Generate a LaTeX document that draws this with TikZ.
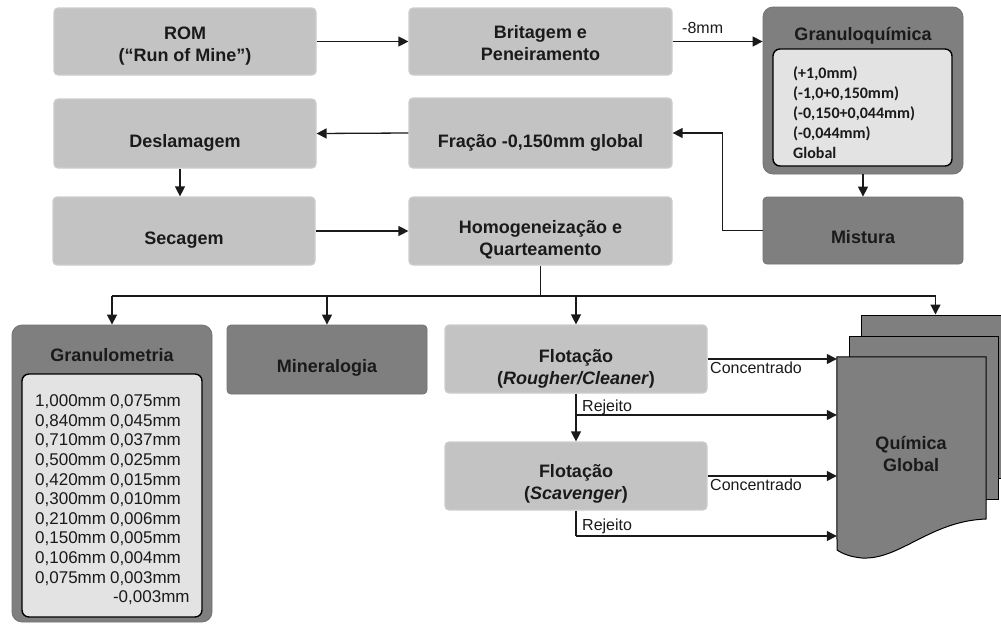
\documentclass[tikz,border=0pt]{standalone}
\usepackage{fontspec}
\setmainfont{Liberation Sans}
\newfontfamily\calibfont{Carlito}
\usetikzlibrary{arrows.meta,calc}
\definecolor{lightbox}{HTML}{C3C3C3}
\definecolor{lightedge}{HTML}{CDCDCD}
\definecolor{darkbox}{HTML}{7F7F7F}
\definecolor{panel}{HTML}{E3E3E3}
\definecolor{ink}{HTML}{1A1A1A}
\begin{document}
\begin{tikzpicture}[x=1pt,y=-1pt,
  lbox/.style={rectangle, rounded corners=4pt, fill=lightbox, draw=lightedge, line width=1.2pt, inner sep=0pt},
  dbox/.style={rectangle, rounded corners=4pt, fill=darkbox, draw=darkbox!90!black, line width=0.8pt, inner sep=0pt},
  frame/.style={rectangle, rounded corners=10pt, fill=darkbox, draw=darkbox!90!black, line width=0.8pt, inner sep=0pt},
  panelbox/.style={rectangle, rounded corners=7pt, fill=panel, draw=black, line width=1.4pt, inner sep=0pt},
  ttl/.style={font=\fontsize{18}{22}\selectfont\bfseries, text=ink, align=center, anchor=base, inner sep=0pt},
  lbl/.style={font=\fontsize{16}{19}\selectfont, text=ink, inner sep=0pt, anchor=base west},
  flow/.style={draw=ink, line width=1.3pt, -{Triangle[length=10pt,width=10pt]}},
  wire/.style={draw=ink, line width=1.3pt},
  page/.style={fill=darkbox, draw=black, line width=1pt}
]
\useasboundingbox (0,0) rectangle (1001,624);

% --- first row (two-line titles are placed by the baseline of their last line)
\node[lbox, minimum width=262pt, minimum height=67pt] (rom) at (185,41.5) {};
\node[ttl] (rom-t) at (185,61) {ROM\\(“Run of Mine”)};
\node[lbox, minimum width=263pt, minimum height=67pt] (brit) at (540.5,41.5) {};
\node[ttl] (brit-t) at (540.5,60) {Britagem e\\Peneiramento};

\node[frame, minimum width=200pt, minimum height=167pt] (granq) at (863,90.5) {};
\node[ttl] (granq-t) at (863,40) {Granuloquímica};
\node[panelbox, minimum width=179pt, minimum height=117pt] (granq-p) at (862.5,107.5) {};
\node[inner sep=0pt, anchor=north west, text=ink,
      font=\calibfont\fontsize{16}{20}\selectfont\bfseries] (granq-l) at (793,64)
  {\begin{tabular}{@{}l@{}}(+1,0mm)\\(-1,0+0,150mm)\\(-0,150+0,044mm)\\(-0,044mm)\\Global\end{tabular}};

% --- second row ------------------------------------------------------
\node[lbox, minimum width=262pt, minimum height=69pt] (desl) at (185,133.5) {};
\node[ttl] (desl-t) at (185,147) {Deslamagem};
\node[lbox, minimum width=263pt, minimum height=70pt] (frac) at (540.5,133) {};
\node[ttl] (frac-t) at (540.5,147) {Fração -0,150mm global};

% --- third row -------------------------------------------------------
\node[lbox, minimum width=262pt, minimum height=68pt] (sec) at (184,231) {};
\node[ttl] (sec-t) at (184,244) {Secagem};
\node[lbox, minimum width=263pt, minimum height=68pt] (homog) at (540.5,231) {};
\node[ttl] (homog-t) at (540.5,255) {Homogeneização e\\Quarteamento};
\node[dbox, minimum width=200pt, minimum height=67pt] (mist) at (863,230.5) {};
\node[ttl] (mist-t) at (863,243) {Mistura};

% --- analyses --------------------------------------------------------
\node[frame, minimum width=200pt, minimum height=297pt] (granm) at (112,473.5) {};
\node[ttl] (granm-t) at (112,361) {Granulometria};
\node[panelbox, minimum width=180pt, minimum height=243pt] (granm-p) at (112,495.5) {};
\node[inner sep=0pt, anchor=north west, text=ink,
      font=\fontsize{17}{19.6}\selectfont] (granm-l) at (35,392.8)
  {\begin{tabular}{@{}l@{\hspace{4pt}}l@{}}
   1,000mm & 0,075mm\\
   0,840mm & 0,045mm\\
   0,710mm & 0,037mm\\
   0,500mm & 0,025mm\\
   0,420mm & 0,015mm\\
   0,300mm & 0,010mm\\
   0,210mm & 0,006mm\\
   0,150mm & 0,005mm\\
   0,106mm & 0,004mm\\
   0,075mm & 0,003mm\\
           & \hspace{3pt}-0,003mm
   \end{tabular}};

\node[dbox, minimum width=200pt, minimum height=69pt] (miner) at (327,359.5) {};
\node[ttl] (miner-t) at (327,372) {Mineralogia};

\node[lbox, minimum width=262pt, minimum height=68pt] (flot1) at (576,359) {};
\node[ttl] (flot1-t) at (576,384) {Flotação\\(\textit{Rougher/Cleaner})};
\node[lbox, minimum width=262pt, minimum height=68pt] (flot2) at (576,476) {};
\node[ttl] (flot2-t) at (576,499) {Flotação\\(\textit{Scavenger})};

% --- stacked documents: chemical analysis ----------------------------
\node[page, rectangle, inner sep=0pt, minimum width=149pt, minimum height=163pt] (back) at (935.5,396.5) {};
\node[page, rectangle, inner sep=0pt, minimum width=149pt, minimum height=163pt] (middle) at (923.5,417.5) {};
\node[inner sep=0pt, minimum width=149pt, minimum height=201pt] (front) at (911.5,457.5) {};
\draw[page] (front.north west) -- (front.north east) -- (986,519)
  .. controls (930,521) and (900,560) .. (862,558)
  .. controls (851,557) and (843,554) .. (837,550) -- cycle;
\node[ttl] (quim-t) at (911,471) {Química\\Global};

% --- connectors ------------------------------------------------------
\draw[flow] (rom.east) -- (brit.west);
\draw[flow] (brit.east) -- (brit.east -| granq.west);
\node[lbl] (cut-t) at (682,33) {-8mm};
\draw[flow] (granq.south) -- (mist.north);
\draw[flow] (mist.west) -- ++(-40,0) |- (frac.east);
\draw[flow] (frac.west) -- (desl.east);
\draw[flow] ([xshift=-5pt]desl.south) -- ([xshift=-5pt]desl.south |- sec.north);
\draw[flow] (sec.east) -- (homog.west);

\coordinate (bus) at (540.5,296);
\draw[wire] (homog.south) -- (bus);
\draw[wire] (granm.north |- bus) -- (back.north |- bus);
\draw[flow] (granm.north |- bus) -- (granm.north);
\draw[flow] (miner.north |- bus) -- (miner.north);
\draw[flow] (flot1.north |- bus) -- (flot1.north);
\draw[flow] (back.north |- bus) -- (back.north);

\draw[flow] (flot1.east) -- (flot1.east -| front.west);
\node[lbl] (conc1-t) at (710,373) {Concentrado};
\draw[flow] (flot1.south) -- (flot2.north);
\coordinate (rej1) at (576,415);
\draw[flow] (rej1) -- (rej1 -| front.west);
\node[lbl] (rej1-t) at (582,411) {Rejeito};

\draw[flow] (flot2.east) -- (flot2.east -| front.west);
\node[lbl] (conc2-t) at (710,490) {Concentrado};
\coordinate (rej2) at (576,536);
\draw[wire] (flot2.south) -- (rej2);
\draw[flow] (rej2) -- (rej2 -| front.west);
\node[lbl] (rej2-t) at (582,530) {Rejeito};
\end{tikzpicture}
\end{document}
